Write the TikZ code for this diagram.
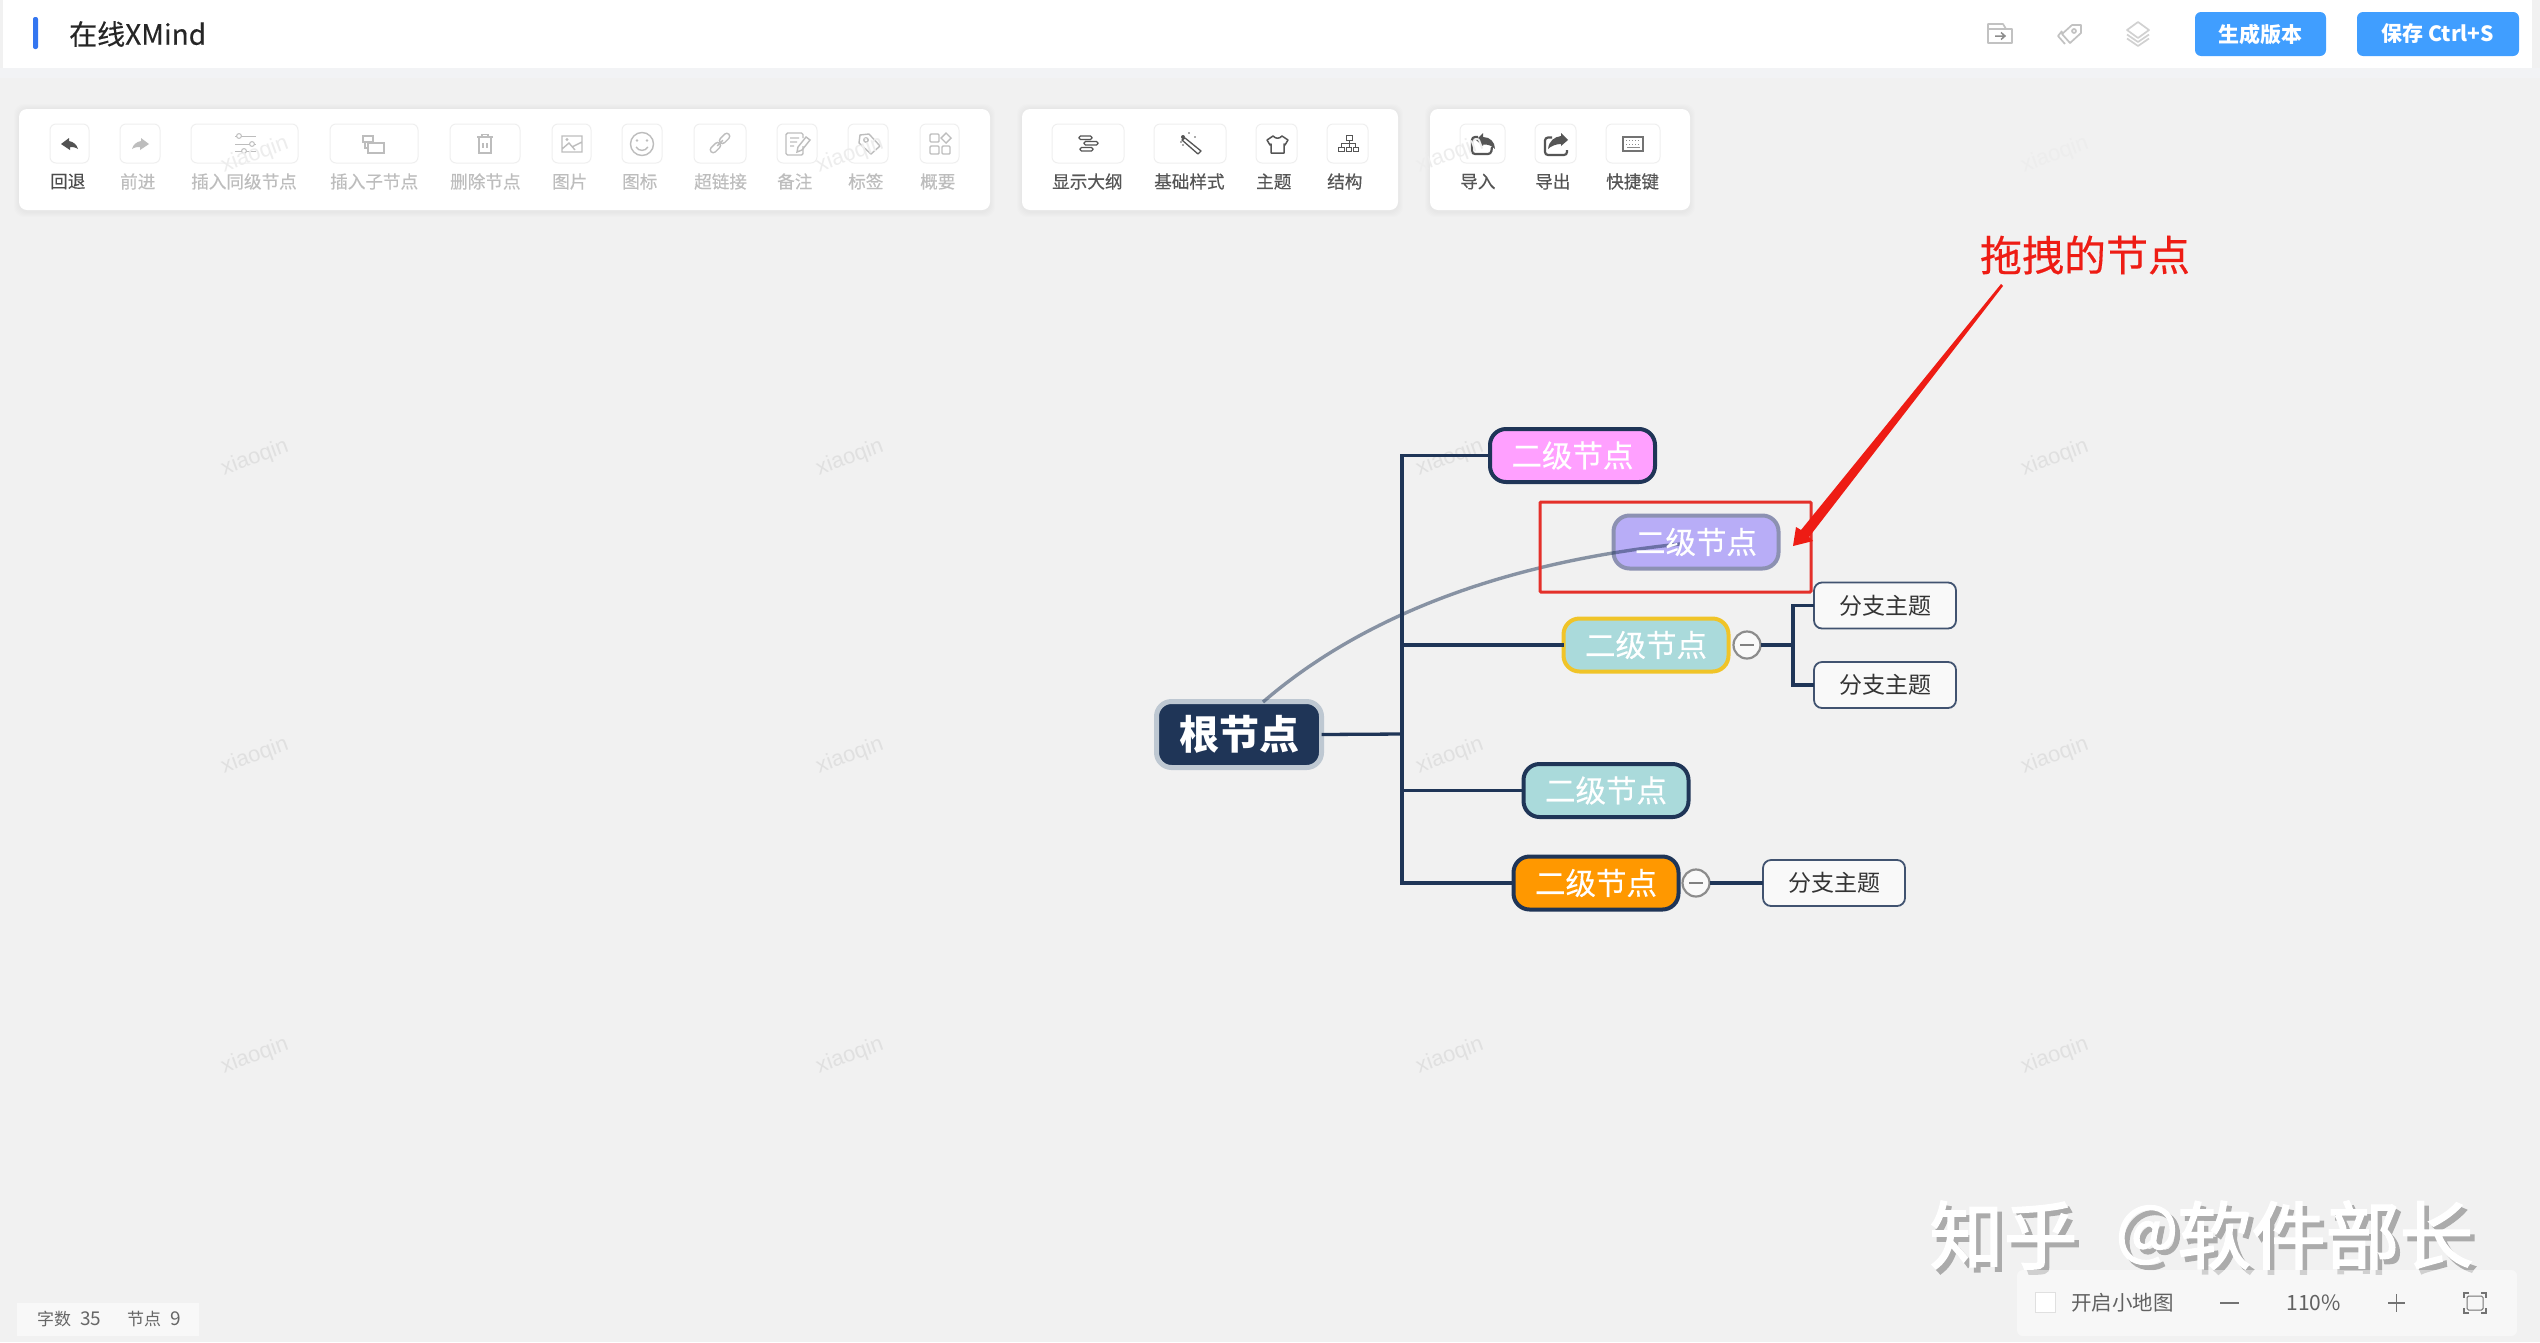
\documentclass[tikz,border=0pt]{standalone}
\usepackage{fontspec}
\setmainfont{Noto Sans CJK SC}
\newfontfamily\medf[FakeBold=0.3]{Noto Sans CJK SC}
\newfontfamily\markf[FakeBold=2]{Noto Sans CJK SC}
\newfontfamily\latinwm{Liberation Sans}
\usetikzlibrary{calc}
\definecolor{bgc}{HTML}{F1F1F1}
\definecolor{navy}{HTML}{1F3557}
\definecolor{offc}{HTML}{BDBDBD}
\definecolor{onc}{HTML}{555555}
\definecolor{btnb}{HTML}{EFEFEF}
\definecolor{blueb}{HTML}{409EFF}
\definecolor{redm}{HTML}{E4302A}
\definecolor{redt}{HTML}{EE1C14}
\definecolor{bandc}{HTML}{F2F3F5}
\newcommand{\fs}[1]{\fontsize{#1}{#1}\selectfont}
\newcommand{\lowr}[1]{\raisebox{-2.5pt}{#1}}
\tikzset{
  panel/.style={fill=white,rounded corners=8,draw=none},
  tbbtn/.style={draw=btnb,line width=1,rounded corners=6,minimum height=39,inner sep=0,outer sep=0},
  tblabel/.style={anchor=west,inner sep=0,font=\medf\fs{17.6}},
  lvl/.style={draw=navy,line width=4,rounded corners=16,minimum width=165,minimum height=53,inner sep=0,outer sep=0,text=white,font=\medf\fs{30.5}},
  leaf/.style={draw=navy!85,line width=1.8,fill=bgc!40,rounded corners=8,minimum width=142,minimum height=46,inner sep=0,outer sep=0,text=black!80,font=\fs{23}},
  conn/.style={draw=navy,line width=3.3},
  fold/.style={circle,draw=black!45,line width=2.2,fill=bgc!40,minimum size=27,inner sep=0,outer sep=0},
  wm/.style={rotate=20,text=black!12,font=\latinwm\fs{22},inner sep=0},
  wmt/.style={rotate=20,text=black!7,font=\latinwm\fs{22},inner sep=0},
  ico/.style={draw=offc,line width=1.4,fill=none},
  icd/.style={draw=onc,line width=1.3,fill=none},
  topi/.style={draw=black!24,line width=1.7,line join=round},
  topbtn/.style={fill=blueb,rounded corners=6,minimum height=44,inner sep=0,text=white,font=\bfseries\fs{21}},
  markt/.style={inner sep=0,font=\markf\fs{74}}
}
\begin{document}
\begin{tikzpicture}[x=1pt,y=-1pt]
\useasboundingbox (0,0) rectangle (2540,1342);
\fill[bgc] (0,0) rectangle (2540,1342);
% top bar
\fill[bandc] (0,68) rectangle (2540,78);
\fill[white] (3,0) rectangle (2532,68);
\fill[rounded corners=2,fill={rgb,255:red,52;green,118;blue,240}] (33,17) rectangle (38,49);
\node[anchor=west,inner sep=0,text=black!85,font=\medf\fs{28}] (title) at (69,34) {在线XMind};
\node[topbtn,minimum width=131] (gen) at (2260.5,34) {生成版本};
\node[topbtn,minimum width=162] (save) at (2438,34) {保存 Ctrl+S};
% top icons
\draw[topi] (1988,29) -- (1988,43) -- (2012,43) -- (2012,29) -- cycle (1988,29) -- (1988,24) -- (2003,24) -- (2006,29);
\draw[draw=black!45,line width=1.5] (1995,36) -- (2005,36) (2001,32.5) -- (2005,36) -- (2001,39.5);
\draw[topi] (2081,25) -- (2072,25) -- (2062,34) -- (2070,43) -- (2081,33) -- cycle (2062,31) -- (2058,36) -- (2065,44);
\draw[topi] (2074,31) circle[radius=2];
\draw[topi,draw=black!18] (2138,22) -- (2149,30) -- (2138,38) -- (2127,30) -- cycle (2127,34.5) -- (2138,42) -- (2149,34.5) (2127,38.5) -- (2138,46) -- (2149,38.5);
% toolbar shadows
\foreach \g in {1,2,3,4,5}{
  \fill[black,opacity=.006,rounded corners=10] (19-\g,109-\g) rectangle (990+\g,212+\g);
  \fill[black,opacity=.006,rounded corners=10] (1022-\g,109-\g) rectangle (1398+\g,212+\g);
  \fill[black,opacity=.006,rounded corners=10] (1430-\g,109-\g) rectangle (1690+\g,212+\g);
}
\fill[panel] (19,109) rectangle (990,210);
\fill[panel] (1022,109) rectangle (1398,210);
\fill[panel] (1430,109) rectangle (1690,210);
% buttons
\foreach \nm/\xa/\xb/\col/\txt in {
 bBack/50/89/black!70/回退,
 bFwd/120/160/offc/前进,
 bSib/191/298/offc/插入同级节点,
 bChild/330/418/offc/插入子节点,
 bDel/450/520/offc/删除节点,
 bImg/552/591/offc/图片,
 bIcon/622/662/offc/图标,
 bLink/694/746/offc/超链接,
 bNote/777/817/offc/备注,
 bTag/848/888/offc/标签,
 bSum/920/959/offc/概要,
 bOut/1052/1124/onc/显示大纲,
 bStyle/1154/1226/onc/基础样式,
 bTheme/1256/1297/onc/主题,
 bStruct/1327/1368/onc/结构,
 bIn/1460/1505/onc/导入,
 bExp/1535/1576/onc/导出,
 bKey/1606/1660/onc/快捷键}{
  \pgfmathsetmacro{\bcx}{(\xa+\xb)/2}
  \pgfmathsetmacro{\bw}{\xb-\xa}
  \node[tbbtn,minimum width=\bw] (\nm) at (\bcx,143.5) {};
  \node[tblabel,text=\col] (\nm L) at (\xa,181.5) {\txt};
}
% icons left toolbar
\fill[black!68] (61,144) -- (69,138) -- (69,141) .. controls (74,142) and (77,145) .. (78,149) .. controls (75,147) and (72,147) .. (70,147) -- (70,150) -- cycle;
\fill[offc] (149,144) -- (141,138) -- (141,141) .. controls (136,142) and (133,145) .. (132,149) .. controls (135,147) and (138,147) .. (140,147) -- (140,150) -- cycle;
\draw[ico,line width=1] (235,136) -- (256,136) (235,144) -- (256,144) (235,151) -- (256,151);
\filldraw[ico,line width=1,fill=white] (239,136) circle[radius=2.4] (252,144) circle[radius=2.4] (244,151) circle[radius=2.4];
\draw[ico] (363,136) rectangle (373,142) (368,143) rectangle (384,153) (365,142) -- (365,148) -- (368,148);
\draw[ico] (477,137) -- (493,137) (482,137) -- (482,134.5) -- (488,134.5) -- (488,137) (479,137) -- (479,153) -- (491,153) -- (491,137) (483,143) -- (483,148) (487,143) -- (487,148);
\draw[ico] (562,136) rectangle (582,152) (562,149) -- (569,143) -- (575,150) (572,147) -- (582,142);
\fill[offc] (567,139.5) circle[radius=1.6];
\draw[ico] (642,144) circle[radius=11.5];
\fill[offc] (637,140.5) circle[radius=1.3] (647,140.5) circle[radius=1.3];
\draw[ico] (636,147) .. controls (639,151.5) and (645,151.5) .. (648,147);
\begin{scope}[rotate around={45:(720,143)}]
\draw[ico,rounded corners=3] (707.5,140) rectangle (719.5,146);
\draw[ico,rounded corners=3] (720.5,140) rectangle (732.5,146);
\draw[ico] (716,143) -- (724,143);
\end{scope}
\draw[ico,rounded corners=1.5] (803,146) -- (803,155) -- (786,155) -- (786,133) -- (803,133) -- (803,138);
\draw[ico] (790,138) -- (799,138) (790,142) -- (797,142) (790,146) -- (794,146) (797,152) -- (798,147) -- (806,137) -- (810,140) -- (802,150) -- cycle;
\draw[ico,line join=round] (860,135) -- (869,134) -- (880,146) -- (871,154) -- (859,143) -- cycle;
\draw[ico] (866,140) circle[radius=2.2];
\draw[ico,rounded corners=1] (930,134) rectangle (939,142) (930,146) rectangle (939,154) (942,146) rectangle (950,154);
\draw[ico] (946,133) -- (951,138) -- (946,143) -- (941,138) -- cycle;
% icons right toolbars
\draw[icd,rounded corners=1.5] (1079,136) rectangle (1092,139.5) (1084,141.5) rectangle (1098,145) (1080,147.5) rectangle (1093,151);
\draw[icd,line join=round] (1185,138) -- (1201,151) -- (1198,154) -- (1182,140) -- cycle;
\fill[onc] (1183,137) circle[radius=2] (1189,133) circle[radius=.9] (1195,137) circle[radius=.9] (1181,142) circle[radius=.9] (1183,145) circle[radius=.9];
\draw[icd,line width=1.5,line join=round] (1273,136) .. controls (1276,139) and (1279,139) .. (1282,136) -- (1288,140) -- (1285,145) -- (1284,144) -- (1284,153) -- (1271,153) -- (1271,144) -- (1270,145) -- (1267,140) -- cycle;
\draw[icd,line width=1] (1346,135) rectangle (1352,140) (1349,140) -- (1349,143.5) (1341,147) -- (1341,143.5) -- (1355,143.5) -- (1355,147) (1349,143.5) -- (1349,147) (1338,147) rectangle (1344,151.5) (1346,147) rectangle (1351.5,151.5) (1353,147) rectangle (1358,151.5);
\draw[draw=onc,line width=2.2,rounded corners=3] (1478,137) -- (1472,137) -- (1472,154) -- (1491,154) -- (1492,147);
\fill[onc] (1476,140) -- (1483,133) -- (1483,137) .. controls (1490,137) and (1495,142) .. (1495,149) .. controls (1492,146) and (1488,144) .. (1483,144.5) -- (1483,146) -- cycle;
\draw[draw=onc,line width=2.2,rounded corners=3] (1552,137.5) -- (1545,137.5) -- (1545,155) -- (1567,155) -- (1567,150);
\fill[onc] (1568,140) -- (1561,133) -- (1561,136) .. controls (1554,137) and (1549,141) .. (1548,149) .. controls (1551,146) and (1556,144) .. (1561,144) -- (1561,146) -- cycle;
\draw[icd,draw=black!55,line width=1.1] (1623,137) rectangle (1643,151);
\draw[draw=black!45,line width=1,dotted] (1626,140.5) -- (1641,140.5) (1626,144) -- (1641,144);
\draw[draw=black!45,line width=1] (1627,147.5) -- (1640,147.5);
% watermark
\foreach \wx in {255,850,1450,2055}{
  \node[wmt] (wmt\wx) at (\wx,155) {xiaoqin};
  \foreach \wy in {458,756,1056}{
    \node[wm] (wm\wx-\wy) at (\wx,\wy) {xiaoqin};
}}
% mind map
\node[draw={rgb,255:red,190;green,200;blue,210},line width=5,fill=navy,rounded corners=15,minimum width=165,minimum height=66,inner sep=0,outer sep=0,text=white,font=\bfseries\fs{40}] (root) at (1239,734.5) {\lowr{根节点}};
\node[lvl,fill={rgb,255:red,255;green,160;blue,255}] (n1) at (1572.5,455.5) {\lowr{二级节点}};
\node[lvl,draw={rgb,255:red,140;green,145;blue,178},fill={rgb,255:red,184;green,173;blue,247}] (n2) at (1696,542) {};
\node[lvl,draw={rgb,255:red,240;green,196;blue,40},fill={rgb,255:red,170;green,218;blue,219}] (n3) at (1646,645) {\lowr{二级节点}};
\node[lvl,fill={rgb,255:red,170;green,218;blue,219}] (n4) at (1606,790.5) {\lowr{二级节点}};
\node[lvl,fill={rgb,255:red,255;green,152;blue,0}] (n5) at (1596,883) {\lowr{二级节点}};
\node[leaf] (s1) at (1885,605.5) {分支主题};
\node[leaf] (s2) at (1885,685) {分支主题};
\node[leaf] (s3) at (1834,883) {分支主题};
\node[fold] (c1) at (1747,645) {};
\node[fold] (c2) at (1696,883) {};
\draw[draw=black!50,line width=2.5] ($(c1)+(-7,0)$) -- ($(c1)+(7,0)$) ($(c2)+(-7,0)$) -- ($(c2)+(7,0)$);
\coordinate (J) at (1402,734);
\coordinate (J2) at (1793,645);
\draw[conn] (root.east) -- (J);
\draw[conn] (n1.west) -| (J);
\draw[conn] (n3.west) -- (1402,645);
\draw[conn] (n4.west) -- (1402,790.5);
\draw[conn] (n5.west) -| (J);
\draw[conn] (c1.east) -- (J2);
\draw[conn] (s1.west) -| (J2);
\draw[conn] (s2.west) -| (J2);
\draw[conn] (c2.east) -- (s3.west);
% drag curve
\coordinate (dS) at (1263,702);
\coordinate (dE) at (1680,544);
\draw[draw=navy,opacity=.5,line width=3.4] (dS) .. controls (1359,619) and (1498,563) .. (dE);
\node[text=white,inner sep=0,font=\medf\fs{30.5}] (n2t) at (n2) {\lowr{二级节点}};
% annotation
\draw[draw=redm,line width=3,rounded corners=1] (1540,502) rectangle (1811,592);
\node[text=redt,inner sep=0,font=\medf\fs{42}] (note) at (2085,255) {拖拽的节点};
\coordinate (aE) at (1793,546);
\fill[redt] (2003,286) -- (1809,537) -- (1813,541) -- (aE) -- (1796,527) -- (1801,530) -- (2001,284) -- cycle;
% status left
\fill[white,opacity=.55] (17,1303) rectangle (199,1336);
\node[anchor=west,inner sep=0,text=black!60,font=\fs{17}] (count) at (37,1319) {字数};
\node[anchor=west,inner sep=0,text=black!60,font=\fs{19}] (countn) at (80,1319) {35};
\node[anchor=west,inner sep=0,text=black!60,font=\fs{17}] (nodes) at (127,1319) {节点};
\node[anchor=west,inner sep=0,text=black!60,font=\fs{19}] (nodesn) at (170,1319) {9};
% author mark
\node[markt,text=black!33] (markAs) at (2008,1240) {知乎};
\node[markt,text=black!33,font=\markf\fs{66}] (markBs) at (2152,1240) {@};
\node[markt,text=black!33] (markCs) at (2330,1240) {软件部长};
\node[markt,text=white] (markA) at (2003.5,1235) {知乎};
\node[markt,text=white,font=\markf\fs{66}] (markB) at (2147,1235) {@};
\node[markt,text=white] (markC) at (2325.5,1235) {软件部长};
% zoom panel
\fill[white,opacity=.45,rounded corners=6] (2017,1270) rectangle (2517,1336);
\draw[draw=black!12,fill=white] (2035,1292) rectangle (2055,1312);
\node[anchor=west,inner sep=0,text=black!62,font=\fs{20.5}] (mini) at (2071,1303) {开启小地图};
\draw[draw=black!55,line width=1.2] (2220,1303) -- (2239,1303);
\node[inner sep=0,text=black!62,font=\fs{21}] (pct) at (2313.5,1303) {110\%};
\draw[draw=black!55,line width=1.2] (2388,1303) -- (2405,1303) (2396.5,1294) -- (2396.5,1312);
\draw[draw=black!55,line width=1.2] (2469,1293) -- (2464,1293) -- (2464,1298) (2481,1293) -- (2486,1293) -- (2486,1298) (2469,1313) -- (2464,1313) -- (2464,1308) (2481,1313) -- (2486,1313) -- (2486,1308);
\draw[draw=black!55,line width=1,rounded corners=1.5] (2467,1296) rectangle (2483,1310);
\end{tikzpicture}
\end{document}
